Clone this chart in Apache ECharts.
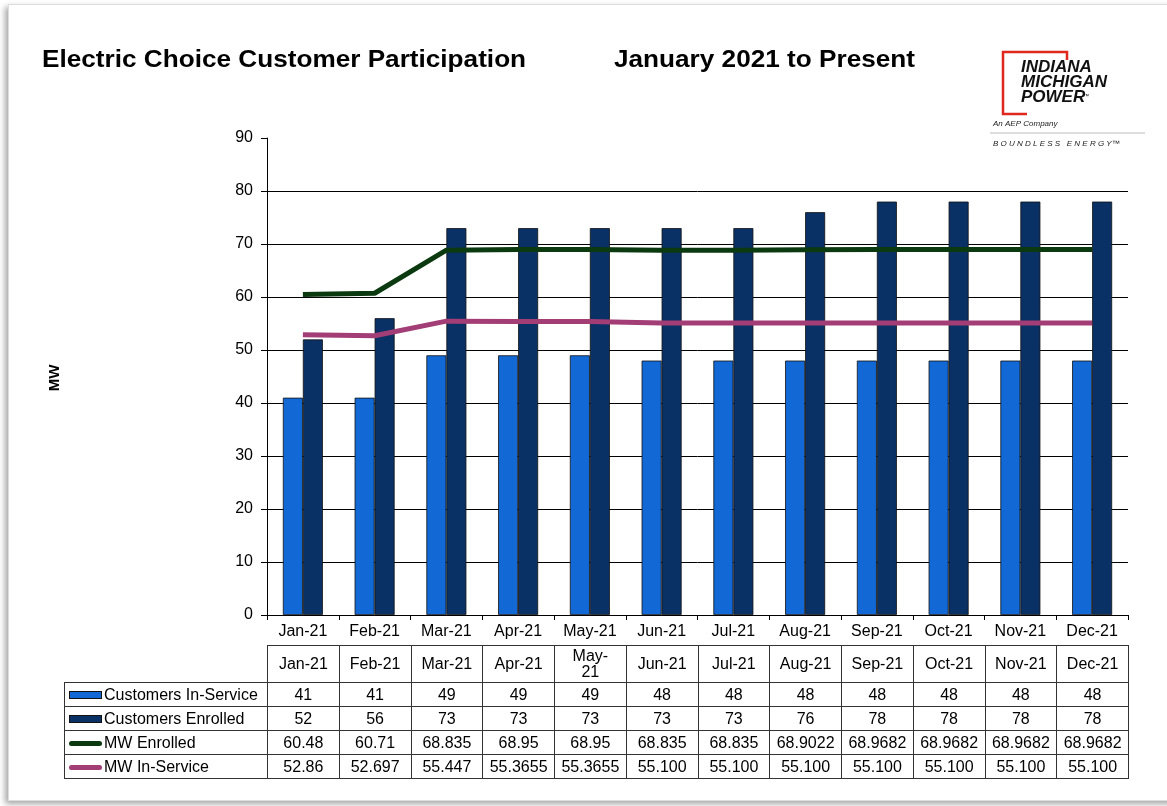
<!DOCTYPE html>
<html>
<head>
<meta charset="utf-8">
<title>Electric Choice Customer Participation</title>
<script src="https://cdn.jsdelivr.net/npm/echarts@6/dist/echarts.min.js"></script>
<style>
body { margin: 0; background: #fff; font-family: "Liberation Sans", Arial, sans-serif; }
#frame { position: absolute; left: 8px; top: 4px; width: 1175px; height: 795px; background: #fff;
	box-shadow: -3px 3px 6px rgba(0,0,0,0.35); border: 1px solid #ddd; }
#main { position: absolute; left: 0; top: 0; width: 1167px; height: 806px; }
#tbl { position: absolute; left: 64px; top: 645px; border-collapse: collapse; font-size: 16px; color: #000;
	table-layout: fixed; width: 1064px; }
#tbl td { border: 1.5px solid #333; text-align: center; padding: 0; height: 23px; white-space: nowrap; overflow: visible; }
#tbl tr.head td { height: 36px; line-height: 16px; }
#tbl td.blank { border: none; }
#tbl td.leg { text-align: left; padding-left: 4px; }
.sw { display: inline-block; width: 33px; vertical-align: middle; margin-right: 2px; }
.sw.bar { height: 6px; border: 1px solid #111; width: 31px; }
.sw.line { height: 5px; border-radius: 3px; }
</style>
</head>
<body>
<div id="frame"></div>
<div id="main"></div>
<table id="tbl"></table>

<script type="text/javascript">
// data
var months = ['Jan-21','Feb-21','Mar-21','Apr-21','May-21','Jun-21','Jul-21','Aug-21','Sep-21','Oct-21','Nov-21','Dec-21'];
var custInService = [41, 41, 49, 49, 49, 48, 48, 48, 48, 48, 48, 48];
var custEnrolled = [52, 56, 73, 73, 73, 73, 73, 76, 78, 78, 78, 78];
var mwEnrolled = [60.48, 60.71, 68.835, 68.95, 68.95, 68.835, 68.835, 68.9022, 68.9682, 68.9682, 68.9682, 68.9682];
var mwInService = [52.86, 52.697, 55.447, 55.3655, 55.3655, 55.100, 55.100, 55.100, 55.100, 55.100, 55.100, 55.100];
var mwEnrolledTxt = ['60.48','60.71','68.835','68.95','68.95','68.835','68.835','68.9022','68.9682','68.9682','68.9682','68.9682'];
var mwInServiceTxt = ['52.86','52.697','55.447','55.3655','55.3655','55.100','55.100','55.100','55.100','55.100','55.100','55.100'];

var cLight = '#1268d4', cDark = '#0a3166', cGreen = '#0b3a10', cPink = '#a33d76';
var font = 'Liberation Sans';

// 数据表
var rows = [
	{name: 'Customers In-Service', sw: 'bar', color: cLight, vals: custInService},
	{name: 'Customers Enrolled', sw: 'bar', color: cDark, vals: custEnrolled},
	{name: 'MW Enrolled', sw: 'line', color: cGreen, vals: mwEnrolledTxt},
	{name: 'MW In-Service', sw: 'line', color: cPink, vals: mwInServiceTxt}
];
var html = '<colgroup><col style="width:203px">';
months.forEach(function () { html += '<col style="width:71.75px">'; });
html += '</colgroup><tr class="head"><td class="blank leg"></td>';
months.forEach(function (m) {
	html += '<td>' + (m === 'May-21' ? 'May-<br>21' : m) + '</td>';
});
html += '</tr>';
rows.forEach(function (r) {
	html += '<tr><td class="leg"><span class="sw ' + r.sw + '" style="background:' + r.color + '"></span>' + r.name + '</td>';
	r.vals.forEach(function (v) { html += '<td>' + v + '</td>'; });
	html += '</tr>';
});
document.getElementById('tbl').innerHTML = html;

// 网格线：90 处不画
var gridColors = ['#000','#000','#000','#000','#000','#000','#000','#000','#000','transparent'];

var chart = echarts.init(document.getElementById('main'));
chart.setOption({
	animation: false,
	textStyle: {fontFamily: font},
	grid: {left: 267, right: 39, top: 138, bottom: 191},
	xAxis: {
		type: 'category',
		data: months,
		axisLine: {lineStyle: {color: '#000', width: 1}},
		axisTick: {show: true, length: 5, lineStyle: {color: '#000'}},
		axisLabel: {color: '#000', fontSize: 16, margin: 9, fontFamily: font}
	},
	yAxis: {
		type: 'value',
		min: 0,
		max: 90,
		interval: 10,
		axisLine: {show: true, lineStyle: {color: '#000', width: 1}},
		axisTick: {show: true, length: 6, lineStyle: {color: '#000'}},
		axisLabel: {color: '#000', fontSize: 16, margin: 14, fontFamily: font},
		splitLine: {show: true, lineStyle: {color: gridColors, width: 1}}
	},
	graphic: [
		{type: 'text', x: 42, y: 48, scaleX: 1.09, style: {text: 'Electric Choice Customer Participation', font: 'bold 24px "Liberation Sans"', fill: '#000'}},
		{type: 'text', x: 614, y: 48, scaleX: 1.09, style: {text: 'January 2021 to Present', font: 'bold 24px "Liberation Sans"', fill: '#000'}},
		{type: 'text', x: 55, y: 378, rotation: Math.PI / 2, style: {text: 'MW', font: 'bold 15px "Liberation Sans"', fill: '#000', align: 'center', verticalAlign: 'middle'}},
		// logo
		{type: 'polyline', shape: {points: [[1027, 114], [1003, 114], [1003, 52], [1067, 52], [1067, 60]]}, style: {stroke: '#e0281e', lineWidth: 2.5, fill: null}},
		{type: 'text', x: 1021, y: 60, style: {text: 'INDIANA\nMICHIGAN\nPOWER', font: 'italic bold 17px "Liberation Sans"', lineHeight: 15, fill: '#111'}},
		{type: 'text', x: 1083, y: 93, style: {text: '™', font: '6px "Liberation Sans"', fill: '#111'}},
		{type: 'text', x: 993, y: 120, style: {text: 'An AEP Company', font: 'italic 8px "Liberation Sans"', fill: '#222'}},
		{type: 'line', shape: {x1: 990, y1: 133, x2: 1145, y2: 133}, style: {stroke: '#bbb', lineWidth: 1}},
		{type: 'text', x: 993, y: 140, style: {text: 'B O U N D L E S S   E N E R G Y™', font: 'italic 8px "Liberation Sans"', fill: '#222'}}
	],
	series: [
		{
			name: 'Customers In-Service',
			type: 'bar',
			data: custInService,
			barWidth: 20,
			barGap: '0%',
			itemStyle: {color: cLight, borderColor: '#111', borderWidth: 0.8}
		},
		{
			name: 'Customers Enrolled',
			type: 'bar',
			data: custEnrolled,
			barWidth: 20,
			barGap: '0%',
			itemStyle: {color: cDark, borderColor: '#111', borderWidth: 0.8}
		},
		{
			name: 'MW Enrolled',
			type: 'line',
			data: mwEnrolled,
			symbol: 'none',
			lineStyle: {color: cGreen, width: 5},
			z: 5
		},
		{
			name: 'MW In-Service',
			type: 'line',
			data: mwInService,
			symbol: 'none',
			lineStyle: {color: cPink, width: 5},
			z: 5
		}
	]
});
</script>
</body>
</html>
